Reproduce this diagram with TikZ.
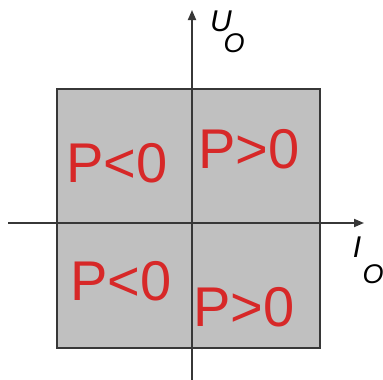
\documentclass[tikz,border=0pt]{standalone}
\usepackage{fontspec}
\setmainfont{Liberation Sans}
\usetikzlibrary{arrows.meta}
\definecolor{boxgray}{RGB}{192,192,192}
\definecolor{edgegray}{RGB}{55,55,55}
\definecolor{pred}{RGB}{215,40,40}
\tikzset{
  quad/.style={text=pred,font=\fontsize{56}{56}\selectfont,inner sep=0pt,anchor=base west},
  axlab/.style={text=black,font=\fontsize{30}{30}\selectfont\itshape,inner sep=0pt},
  axis/.style={draw=edgegray,line width=1.8pt,-{Triangle[length=10pt,width=8pt]}}
}
\begin{document}
\begin{tikzpicture}[x=1pt,y=-1pt]
\useasboundingbox (0,0) rectangle (383,380);
\filldraw[fill=boxgray,draw=edgegray,line width=1.8pt] (57,89) rectangle (320,348);
\coordinate (xl) at (8,223);
\coordinate (xr) at (364,223);
\coordinate (yb) at (192,380);
\coordinate (yt) at (192,10);
\draw[axis] (xl) -- (xr);
\draw[axis] (yb) -- (yt);
\node[quad] (q2) at (66,182) {P<0};
\node[quad] (q1) at (198,168) {P>0};
\node[quad] (q3) at (70,300) {P<0};
\node[quad] (q4) at (193,326) {P>0};
\node[axlab] (u) at (221,21) {U};
\node[axlab,font=\fontsize{27}{27}\selectfont\itshape] (uo) at (234,43) {O};
\node[axlab] (i) at (357,247) {I};
\node[axlab,font=\fontsize{27}{27}\selectfont\itshape] (io) at (373,274) {O};
\end{tikzpicture}
\end{document}
